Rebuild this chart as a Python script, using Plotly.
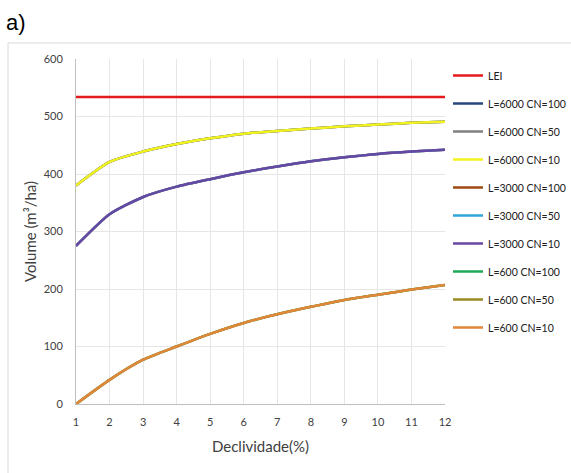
import plotly.graph_objects as go

# Slope (%) on the x axis
declividade = [1, 2, 3, 4, 5, 6, 7, 8, 9, 10, 11, 12]

# Reference limit (LEI)
lei = [534] * 12

# Runoff volume (m³/ha) per slope length L; the CN variants coincide
l6000 = [380, 421, 439, 452, 462, 470, 475, 479, 483, 486, 489, 491]
l3000 = [275, 330, 360, 378, 391, 403, 413, 422, 429, 435, 439, 442]
l600 = [0, 42, 77, 100, 122, 141, 156, 169, 181, 190, 199, 207]

series_names = [
    "LEI",
    "L=6000 CN=100", "L=6000 CN=50", "L=6000 CN=10",
    "L=3000 CN=100", "L=3000 CN=50", "L=3000 CN=10",
    "L=600 CN=100", "L=600 CN=50", "L=600 CN=10",
]
series_values = [
    lei,
    l6000, l6000, l6000,
    l3000, l3000, l3000,
    l600, l600, l600,
]
series_colors = [
    "#e41a1c",
    "#27477d", "#7f7f7f", "#f2f21e",
    "#9e4a12", "#2fa6d8", "#6647a3",
    "#1fa857", "#9a8a22", "#e0873a",
]

W, H = 571, 473
ML, MR, MT, MB = 76, 126, 59, 69
PW, PH = W - ML - MR, H - MT - MB


def px_x(p):
    return (p - ML) / PW


def px_y(p):
    return (H - MB - p) / PH


FONT = "Lato, Open Sans, sans-serif"

fig = go.Figure()
for i, (name, vals, col) in enumerate(zip(series_names, series_values, series_colors)):
    fig.add_trace(go.Scatter(
        x=declividade, y=vals, name=name, mode="lines",
        line=dict(color=col, width=2.5, shape="spline", smoothing=0.6),
        legendgroup=f"g{i}",
    ))

fig.update_layout(
    width=W, height=H,
    margin=dict(l=ML, r=MR, t=MT, b=MB, autoexpand=False),
    paper_bgcolor="white", plot_bgcolor="white",
    font=dict(family=FONT, color="#404040", size=11),
    showlegend=True,
    legend=dict(
        xref="container", yref="container",
        x=448 / W, xanchor="left",
        y=1 - 61 / H, yanchor="top",
        font=dict(family=FONT, size=10.5, color="#202020"),
        tracegroupgap=9, itemwidth=30,
        maxheight=380,
        bgcolor="rgba(0,0,0,0)",
    ),
    xaxis=dict(
        range=[1, 12], tickmode="array", tickvals=declividade,
        showgrid=True, gridcolor="#e6e6e6", gridwidth=1,
        showline=True, linecolor="#bfbfbf", linewidth=1,
        zeroline=False, ticks="", ticklabelstandoff=8,
        tickfont=dict(family=FONT, size=11, color="#404040"),
        title=dict(text="Declividade(%)", standoff=14,
                   font=dict(family=FONT, size=15, color="#404040")),
    ),
    yaxis=dict(
        range=[0, 600], tickmode="array", tickvals=[0, 100, 200, 300, 400, 500, 600],
        showgrid=True, gridcolor="#e6e6e6", gridwidth=1,
        showline=True, linecolor="#bfbfbf", linewidth=1,
        zeroline=False, ticks="", ticklabelstandoff=10,
        tickfont=dict(family=FONT, size=11, color="#404040"),
        title=dict(text="Volume (m³/ha)", standoff=3,
                   font=dict(family=FONT, size=15, color="#404040")),
    ),
    shapes=[
        dict(type="rect", xref="paper", yref="paper",
             x0=px_x(8), x1=px_x(620), y0=px_y(520), y1=px_y(43),
             line=dict(color="#d9d9d9", width=1), fillcolor="rgba(0,0,0,0)",
             layer="below"),
    ],
    annotations=[
        dict(text="a)", xref="paper", yref="paper",
             x=px_x(4), y=px_y(22), xanchor="left", yanchor="middle",
             showarrow=False,
             font=dict(family="Liberation Sans, Arial, sans-serif", size=22, color="#000000")),
    ],
)

fig.write_html("out.html")
